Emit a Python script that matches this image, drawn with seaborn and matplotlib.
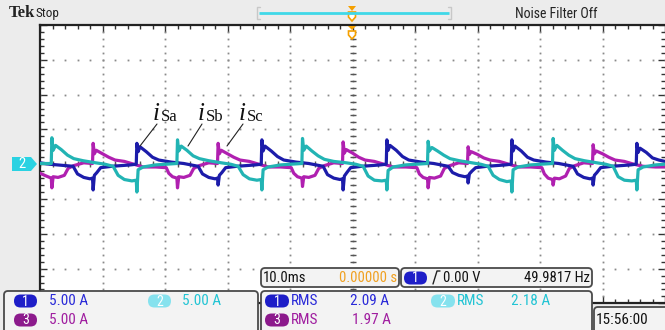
import matplotlib
matplotlib.use("Agg")

import matplotlib.pyplot as plt
from matplotlib.patches import FancyBboxPatch, Polygon
import numpy as np
import pandas as pd
import seaborn as sns

# Scope capture: 10 ms/div, 5 A/div, 10 x 8 divisions
# time in ms, current in A, read off the screen trace by trace

# Ch1 (blue) - i_Sa
blue_t = [0.0, 1.5, 5.3, 6.0, 7.0, 8.0, 8.4, 8.5, 8.7, 9.1, 9.7, 11.5, 14.5, 15.4,
          15.5, 15.7, 16.0, 17.0, 18.0, 19.0, 21.0, 23.0, 25.3, 26.0, 27.0, 28.0, 28.4, 28.5, 28.7, 29.1, 29.7, 31.5, 34.5, 35.4,
          35.5, 35.7, 36.0, 37.0, 38.0, 39.0, 41.0, 43.0, 45.3, 46.0, 47.0, 48.0, 48.4, 48.5, 48.7, 49.1, 49.7, 51.5, 54.5, 55.4,
          55.5, 55.7, 56.0, 57.0, 58.0, 59.0, 61.0, 63.0, 65.3, 66.0, 67.0, 68.0, 68.4, 68.5, 68.7, 69.1, 69.7, 71.5, 74.5, 75.4,
          75.5, 75.7, 76.0, 77.0, 78.0, 79.0, 81.0, 83.0, 85.3, 86.0, 87.0, 88.0, 88.4, 88.5, 88.7, 89.1, 89.7, 91.5, 94.5, 95.4,
          95.5, 95.7, 96.0, 97.0, 98.0, 99.0, 100.0]
blue_a = [0.2, 0.0, -0.3, -1.4, -1.9, -2.1, -2.0, -3.7, -1.6, -1.2, -0.5, -0.3, -0.1, 0.0,
          3.0, 1.8, 2.5, 1.8, 1.0, 0.6, 0.3, 0.1, -0.3, -1.4, -1.9, -2.1, -2.0, -3.0, -1.6, -1.2, -0.5, -0.3, -0.1, 0.0,
          3.5, 1.9, 2.6, 1.9, 1.1, 0.6, 0.3, 0.1, -0.3, -1.5, -2.0, -2.2, -2.1, -3.7, -1.7, -1.2, -0.5, -0.3, -0.1, 0.0,
          3.5, 2.0, 2.7, 2.0, 1.1, 0.6, 0.3, 0.1, -0.3, -1.2, -1.6, -1.8, -1.7, -2.7, -1.4, -1.0, -0.5, -0.3, -0.1, 0.0,
          3.5, 1.9, 2.6, 1.9, 1.0, 0.6, 0.3, 0.1, -0.3, -1.4, -1.9, -2.1, -2.0, -3.0, -1.6, -1.2, -0.5, -0.3, -0.1, 0.0,
          3.0, 1.7, 2.3, 1.7, 0.9, 0.6, 0.4]

# Ch2 (cyan) - i_Sb
cyan_t = [0.0,
          1.8, 1.9, 2.1, 2.5, 3.4, 4.4, 5.4, 6.9, 8.9, 10.4, 11.7, 12.5, 13.5, 14.7, 15.4, 15.5, 15.7, 16.5, 18.5,
          21.9, 22.0, 22.2, 22.6, 23.5, 24.5, 25.5, 27.0, 29.0, 30.5, 31.7, 32.5, 33.5, 34.7, 35.4, 35.5, 35.7, 36.5, 38.5,
          41.9, 42.0, 42.2, 42.6, 43.5, 44.5, 45.5, 47.0, 49.0, 50.5, 51.7, 52.5, 53.5, 54.7, 55.4, 55.5, 55.7, 56.5, 58.5,
          62.0, 62.1, 62.3, 62.7, 63.6, 64.6, 65.6, 67.1, 69.1, 70.5, 71.7, 72.5, 73.5, 74.7, 75.4, 75.5, 75.7, 76.5, 78.5,
          82.0, 82.1, 82.3, 82.7, 83.6, 84.6, 85.6, 87.1, 89.1, 90.5, 91.7, 92.5, 93.5, 94.7, 95.4, 95.5, 95.7, 96.5, 98.5, 100.0]
cyan_a = [0.1,
          0.1, 3.8, 2.0, 2.7, 2.1, 1.3, 0.8, 0.5, 0.2, 0.0, -0.3, -1.6, -2.2, -2.4, -2.3, -4.0, -0.8, -0.4, -0.1,
          0.1, 3.5, 1.9, 2.6, 2.0, 1.2, 0.8, 0.5, 0.2, 0.0, -0.3, -1.5, -2.1, -2.3, -2.2, -3.7, -0.8, -0.4, -0.1,
          0.1, 3.7, 2.0, 2.6, 1.9, 1.2, 0.7, 0.4, 0.2, 0.0, -0.3, -1.7, -2.3, -2.4, -2.3, -3.7, -0.9, -0.4, -0.1,
          0.1, 3.3, 1.9, 2.4, 1.9, 1.3, 0.8, 0.5, 0.2, 0.0, -0.3, -1.6, -2.2, -2.5, -2.4, -4.0, -0.8, -0.4, -0.1,
          0.1, 3.7, 2.0, 2.7, 2.0, 1.3, 0.8, 0.5, 0.2, 0.0, -0.3, -1.8, -2.3, -2.4, -2.3, -3.7, -0.8, -0.4, -0.1, 0.0]

# Ch3 (magenta) - i_Sc
mag_t = [0.0, 1.0, 1.8, 1.9, 2.1, 2.9, 3.9, 4.5, 5.4, 7.0, 8.4,
         8.5, 8.7, 9.0, 10.0, 11.0, 12.0, 13.5, 15.0, 16.5, 18.5, 20.2, 20.6, 21.2, 21.9, 22.0, 22.2, 23.0, 24.0, 24.6, 25.5, 27.0, 28.4,
         28.5, 28.7, 29.0, 30.0, 31.0, 32.0, 33.5, 35.0, 36.5, 38.5, 40.2, 40.6, 41.2, 41.9, 42.0, 42.2, 43.0, 44.0, 44.6, 45.5, 47.0, 48.4,
         48.5, 48.7, 49.0, 50.0, 51.0, 52.0, 53.5, 55.0, 56.5, 58.5, 60.3, 60.7, 61.3, 62.0, 62.1, 62.3, 63.1, 64.1, 64.7, 65.6, 67.0, 68.4,
         68.5, 68.7, 69.0, 70.0, 71.0, 72.0, 73.5, 75.0, 76.5, 78.5, 80.3, 80.7, 81.3, 82.0, 82.1, 82.3, 83.1, 84.1, 84.7, 85.6, 87.0, 88.4,
         88.5, 88.7, 89.0, 90.0, 91.0, 92.0, 93.5, 95.0, 96.5, 98.5, 100.0]
mag_a = [-1.3, -1.7, -2.0, -3.4, -1.8, -1.9, -1.6, -0.6, -0.2, 0.2, 0.1,
         3.0, 1.5, 2.0, 1.5, 1.0, 0.6, 0.4, 0.0, -0.4, -0.4, -0.5, -1.3, -1.8, -2.0, -3.4, -1.8, -1.9, -1.6, -0.6, -0.2, 0.2, 0.1,
         3.0, 1.5, 2.0, 1.5, 1.0, 0.6, 0.4, 0.0, -0.4, -0.4, -0.5, -1.3, -1.8, -2.0, -3.2, -1.8, -1.9, -1.6, -0.6, -0.2, 0.2, 0.1,
         3.2, 1.6, 2.1, 1.6, 1.0, 0.6, 0.4, 0.0, -0.4, -0.4, -0.5, -1.4, -1.9, -2.1, -3.4, -1.9, -2.0, -1.7, -0.6, -0.2, 0.2, 0.1,
         2.5, 1.4, 1.8, 1.4, 0.9, 0.6, 0.4, 0.0, -0.4, -0.4, -0.5, -1.4, -2.0, -2.2, -3.0, -2.0, -2.1, -1.7, -0.6, -0.2, 0.2, 0.1,
         2.8, 1.5, 1.9, 1.5, 1.0, 0.6, 0.4, 0.0, -0.3, -0.4, -0.4]

# readouts on the scope screen
ch_scales = ["5.00 A", "5.00 A", "5.00 A"]
rms_values = ["2.09 A", "2.18 A", "1.97 A"]
timebase = "10.0ms"
trig_pos = "0.00000 s"
trig_level = "0.00 V"
frequency = "49.9817 Hz"
clock = "15:56:00"
labels = ["Sa", "Sb", "Sc"]

C_BLUE = "#1c1caa"
C_CYAN = "#22b4b4"
C_MAG = "#b020b0"

sns.set_style("white")
plt.rcParams["font.family"] = ["Roboto Condensed", "DejaVu Sans"]
plt.rcParams["font.stretch"] = "condensed"

W, H = 665, 330
fig = plt.figure(figsize=(W / 100, H / 100), dpi=100, facecolor="#ececec")

# graticule position in pixels
gx0, gx1, gy0, gy1 = 40, 665, 25, 303.4
ax = fig.add_axes([gx0 / W, 1 - gy1 / H, (gx1 - gx0) / W, (gy1 - gy0) / H])
ax.set_facecolor("white")
ax.set_xlim(0, 100)
ax.set_ylim(-20, 20)

# dotted graticule
dot = dict(ls="none", marker="s", ms=1.3, color="#8a8a8a", mew=0, zorder=1)
for yv in np.arange(-15, 16, 5):
    xs = np.arange(0, 100.1, 2)
    ax.plot(xs, np.full_like(xs, yv), **dot)
for xv in np.arange(10, 100, 10):
    ys = np.arange(-20, 20.1, 1)
    ax.plot(np.full_like(ys, xv), ys, **dot)
# center line tick marks
ax.plot(np.full(41, 50.0), np.arange(-20, 20.1, 1), ls="none", marker="_", ms=4, mew=1, color="#555555", zorder=1)
ax.plot(np.arange(0, 100.1, 2), np.zeros(51), ls="none", marker="|", ms=4, mew=1, color="#555555", zorder=1)

ax.set_xticks(np.arange(0, 101, 10))
ax.set_xticks(np.arange(0, 101, 2), minor=True)
ax.set_yticks(np.arange(-20, 21, 5))
ax.set_yticks(np.arange(-20, 21, 1), minor=True)
ax.tick_params(which="both", direction="in", top=True, right=True, bottom=True, left=True,
               labelbottom=False, labelleft=False, color="#333333", width=1)
ax.tick_params(which="major", length=5)
ax.tick_params(which="minor", length=3)
for side in ["top", "left", "bottom"]:
    ax.spines[side].set_color("#222222")
    ax.spines[side].set_linewidth(1.6)
ax.spines["right"].set_visible(False)

# traces
for t, a, c, z in [(mag_t, mag_a, C_MAG, 3), (blue_t, blue_a, C_BLUE, 4), (cyan_t, cyan_a, C_CYAN, 5)]:
    df = pd.DataFrame({"t": t, "i": a})
    sns.lineplot(data=df, x="t", y="i", ax=ax, color=c, lw=2.3, estimator=None, sort=False, zorder=z)
ax.set_xlabel("")
ax.set_ylabel("")

# overlay in pixel coords for the scope UI
ov = fig.add_axes([0, 0, 1, 1], zorder=10)
ov.set_xlim(0, W)
ov.set_ylim(H, 0)
ov.axis("off")
ov.patch.set_alpha(0)


def box(x0, y0, x1, y1):
    ov.add_patch(FancyBboxPatch((x0, y0), x1 - x0, y1 - y0, boxstyle="round,pad=0,rounding_size=4",
                                fc="#f3f3f3", ec="#4a4a4a", lw=1.3))


def pill(x0, x1, yc, color, label, h=13):
    ov.add_patch(FancyBboxPatch((x0, yc - h / 2), x1 - x0, h, boxstyle=f"round,pad=0,rounding_size={h / 2}",
                                fc=color, ec="none"))
    ov.text((x0 + x1) / 2, yc + 0.5, label, color="white", ha="center", va="center", fontsize=10)


# top bar
ov.text(9, 13, "Tek", family="Liberation Serif", weight="bold", fontsize=12, va="center", color="#222222")
ov.text(36, 13.5, "Stop", fontsize=9.5, va="center", color="#222222")
ov.text(515, 13.5, "Noise Filter Off", fontsize=10, va="center", color="#222222")
ov.plot([259, 449], [13, 13], color="#40d8e8", lw=2, solid_capstyle="butt")
for bx, d in [(257, 1), (451, -1)]:
    ov.plot([bx + 3 * d, bx, bx, bx + 3 * d], [7, 7, 19, 19], color="#c8c8c8", lw=1)
ov.add_patch(Polygon([[348, 6], [356, 6], [352, 11]], closed=True, fc="#f5a000", ec="none"))
ov.add_patch(Polygon([[348.5, 12], [355.5, 12], [355.5, 17], [352, 21], [348.5, 17]], closed=True,
                     fc="white", ec="#f5a000", lw=1.2))
ov.add_patch(Polygon([[348, 26], [356, 26], [352, 30]], closed=True, fc="#f5a000", ec="none"))
ov.add_patch(Polygon([[348.5, 31], [355.5, 31], [355.5, 35], [352, 39], [348.5, 35]], closed=True,
                     fc="white", ec="#f5a000", lw=1.2))

# channel 2 ground marker
ov.add_patch(Polygon([[12, 157], [31, 157], [37, 164], [31, 171], [12, 171]], closed=True, fc="#2ad2e2", ec="none"))
ov.text(22, 164.5, "2", color="white", ha="center", va="center", fontsize=10.5)

# trace labels with leader lines
for (lx, ex), lab in zip([(153, 140), (198, 188), (239, 227)], labels):
    ov.text(lx, 120, "i", family="Liberation Serif", style="italic", fontsize=18, color="#111111", va="baseline")
    ov.text(lx + 8, 121, lab, family="Liberation Serif", fontsize=12, color="#111111", va="baseline")
    ov.plot([lx + 4, ex], [124, 146], color="#222222", lw=0.8)

# readout boxes
box(261, 268, 399, 287)
ov.text(263, 278, timebase, fontsize=10.5, va="center", color="#111111")
ov.text(397, 278, trig_pos, fontsize=10.5, va="center", ha="right", color="#f0a020")
box(401, 268, 592, 287)
pill(404, 427, 278, "#1e1ec8", "1")
ov.plot([433, 437, 440], [284, 271, 271], color="#222222", lw=1)
ov.text(443, 278, trig_level, fontsize=10.5, va="center", color="#111111")
ov.text(590, 278, frequency, fontsize=10.5, va="center", ha="right", color="#111111")

box(4, 291, 258, 334)
box(261, 291, 592, 334)
box(594, 307, 672, 334)
ov.text(596, 320, clock, fontsize=11, va="center", color="#111111")

rows = [(301, "#1e1ec8", "#2a2ad8", "1"), (301, "#86e2ee", "#22c4d4", "2"), (320, "#8c1a8c", "#a01ea0", "3")]
scale_x = [(14, 49), (148, 182), (14, 49)]
rms_x = [(265, 350), (431, 511), (265, 352)]
for (yc, pc, tc, n), sc, (sx0, sx1), (rx0, rx1) in zip(rows, ch_scales, scale_x, rms_x):
    pill(sx0, sx0 + 23, yc, pc, n)
    ov.text(sx1, yc, sc, fontsize=11, va="center", color=tc)
    pill(rx0, rx0 + 24, yc, pc, n)
    ov.text(rx0 + 26, yc, "RMS", fontsize=11, va="center", color=tc)
for (yc, pc, tc, n), rv, (rx0, rx1) in zip(rows, rms_values, rms_x):
    ov.text(rx1, yc, rv, fontsize=11, va="center", color=tc)

fig.savefig("out.png", dpi=100, facecolor=fig.get_facecolor())
